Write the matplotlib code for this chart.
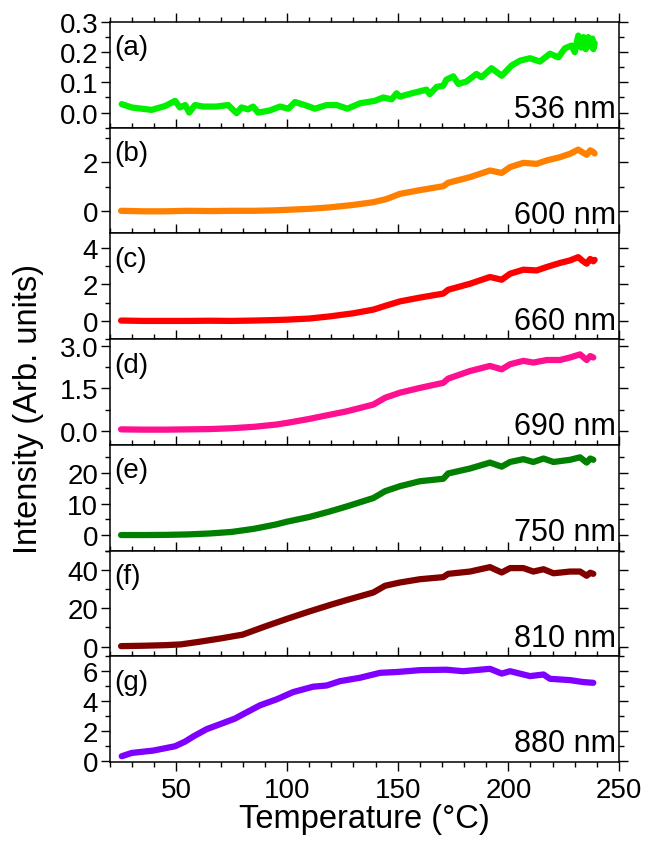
import matplotlib
matplotlib.use("Agg")
import matplotlib.pyplot as plt
from matplotlib.ticker import MultipleLocator, FormatStrFormatter

plt.rcParams['font.family'] = ['Liberation Sans', 'DejaVu Sans']

# ---------------- data ----------------
temp_a = [25.3, 29.8, 38.8, 45, 49.4, 51.6, 54, 55.8, 58.4, 62.2, 68, 73.4, 77.2, 79.4,
          82.4, 84.7, 86.9, 92.2, 96.8, 100.6, 103.6, 108, 112.6, 117.9, 122.4, 127.3,
          133, 139.7, 143.5, 147.3, 149.5, 151, 157, 163, 164.5, 167.6, 170.6, 172,
          175.1, 177.4, 181.1, 185.6, 187.9, 192.4, 197, 201.5, 205.3, 209.8, 214.3,
          218.8, 222.6, 225.6, 228.6, 230, 231.6, 233, 233.9, 235, 236.1, 237, 238,
          238.4, 239]
int_a = [0.028, 0.017, 0.009, 0.022, 0.039, 0.017, 0.025, 0.0, 0.025, 0.02, 0.02, 0.025,
         -0.002, 0.017, 0.011, 0.02, 0.0, 0.007, 0.02, 0.013, 0.035, 0.025, 0.013, 0.025,
         0.025, 0.013, 0.031, 0.039, 0.05, 0.044, 0.064, 0.053, 0.065, 0.076, 0.061,
         0.085, 0.089, 0.109, 0.12, 0.095, 0.103, 0.128, 0.117, 0.147, 0.122, 0.156,
         0.172, 0.18, 0.169, 0.195, 0.183, 0.213, 0.222, 0.20, 0.255, 0.215, 0.25,
         0.21, 0.25, 0.22, 0.245, 0.21, 0.23]

temp_b = [25, 35, 45, 55, 65, 75, 85, 95, 100, 110, 119.4, 130, 139, 145, 151, 160,
          170.6, 172.8, 182.7, 191.7, 197, 200.8, 206.8, 212.8, 217.4, 223.3, 227.9,
          231.6, 233.5, 235.4, 237, 238.4, 239]
int_b = [0.02, 0.0, 0.0, 0.02, 0.01, 0.02, 0.02, 0.04, 0.06, 0.1, 0.16, 0.26, 0.37,
         0.5, 0.71, 0.86, 1.02, 1.16, 1.39, 1.66, 1.56, 1.8, 1.97, 1.93, 2.07, 2.2,
         2.34, 2.51, 2.4, 2.3, 2.48, 2.41, 2.35]

temp_c = [25, 35, 45, 55, 65, 75, 85, 95, 100, 110, 119.4, 130, 139, 145, 151, 160,
          170.6, 172.8, 182.7, 191.7, 197, 200.8, 206.8, 212.8, 217.4, 223.3, 227.9,
          231.6, 233.5, 235.4, 237, 238.4, 239]
int_c = [0.02, 0.0, 0.0, 0.0, 0.01, 0.0, 0.02, 0.05, 0.07, 0.13, 0.25, 0.42, 0.62,
         0.85, 1.07, 1.28, 1.5, 1.71, 2.04, 2.41, 2.26, 2.59, 2.81, 2.77, 2.96, 3.18,
         3.32, 3.5, 3.3, 3.14, 3.4, 3.27, 3.35]

temp_d = [25, 35, 45, 55, 65, 75, 85, 95, 100, 110, 119.4, 127, 139, 144.3, 151, 160,
          170.6, 172.8, 182.7, 191.7, 197, 200.8, 206.8, 211.3, 217.4, 223.3, 227.9,
          232.4, 235.4, 237, 238.4]
int_d = [0.05, 0.04, 0.04, 0.05, 0.06, 0.09, 0.14, 0.22, 0.28, 0.42, 0.57, 0.69, 0.93,
         1.17, 1.35, 1.52, 1.7, 1.85, 2.12, 2.3, 2.18, 2.36, 2.48, 2.42, 2.51, 2.51,
         2.6, 2.71, 2.51, 2.65, 2.6]

temp_e = [25, 35, 45, 55, 65, 75, 85, 95, 100, 110, 119.4, 127, 139, 144.3, 151, 160,
          170.6, 172.8, 182.7, 191.7, 197, 200.8, 206.8, 211.3, 215.9, 220.4, 227.9,
          232.4, 235.4, 237, 238.4]
int_e = [0.0, 0.0, 0.05, 0.2, 0.5, 1.0, 2.0, 3.4, 4.3, 5.8, 7.6, 9.2, 11.9, 14.1, 15.7,
         17.3, 18.1, 19.8, 21.4, 23.3, 22.0, 23.5, 24.4, 23.5, 24.6, 23.5, 24.2, 25.0,
         23.3, 24.6, 24.2]

temp_f = [25, 35, 45, 52, 60, 70, 80, 90, 100, 110, 119.4, 127, 139, 144.3, 151, 160,
          170.6, 172.8, 182.7, 191.7, 197, 200.8, 206.8, 211.3, 215.9, 220.4, 227.9,
          232.4, 235.4, 237, 238.4]
int_f = [0.3, 0.5, 0.8, 1.2, 2.5, 4.3, 6.3, 10.5, 14.5, 18.3, 21.7, 24.3, 28.2, 31.7,
         33.4, 35.1, 36.2, 37.9, 39.1, 41.4, 38.6, 40.9, 40.9, 39.1, 40.3, 38.2, 39.1,
         39.1, 36.9, 38.5, 37.9]

temp_g = [25.3, 29.8, 39.6, 49.4, 53.9, 57.7, 63.7, 69.7, 76.5, 81, 87.8, 95.3, 102.8,
          111.8, 117.9, 123.9, 133, 142, 150, 160, 172, 179.6, 191.7, 197, 200.8,
          209.8, 215.9, 218.8, 227.9, 233.9, 238.4]
int_g = [0.29, 0.51, 0.67, 0.96, 1.27, 1.62, 2.11, 2.44, 2.82, 3.18, 3.71, 4.11, 4.6,
         4.96, 5.04, 5.33, 5.56, 5.89, 5.95, 6.07, 6.1, 6.0, 6.16, 5.84, 6.0, 5.67,
         5.78, 5.49, 5.4, 5.27, 5.22]

labels = ['(a)', '(b)', '(c)', '(d)', '(e)', '(f)', '(g)']
wavelengths = ['536 nm', '600 nm', '660 nm', '690 nm', '750 nm', '810 nm', '880 nm']
colors = ['#00f000', '#ff8000', '#ff0000', '#ff1090', '#007f00', '#800000', '#8000ff']
ylims = [(-0.05, 0.3), (-0.9, 3.4), (-1.0, 4.8), (-0.5, 3.25), (-5, 29), (-5, 50), (-0.1, 7)]
ymajor = [0.1, 2, 2, 1.5, 10, 20, 2]
yminor = [0.05, 1, 1, 0.75, 5, 10, 1]
yfmt = ['%.1f', '%d', '%d', '%.1f', '%d', '%d', '%d']
xticks = [50, 100, 150, 200, 250]

temps = [temp_a, temp_b, temp_c, temp_d, temp_e, temp_f, temp_g]
ints = [int_a, int_b, int_c, int_d, int_e, int_f, int_g]

# ---------------- figure ----------------
fig = plt.figure(figsize=(6.47, 8.45), dpi=100)
gs = fig.add_gridspec(7, 1, left=0.170, right=0.9567, top=0.9728, bottom=0.097, hspace=0)
axes = [fig.add_subplot(gs[i, 0]) for i in range(7)]

for i, ax in enumerate(axes):
    ax.plot(temps[i], ints[i], color=colors[i], lw=4.5, solid_joinstyle='round',
            solid_capstyle='round')
    ax.set_xlim(20, 250)
    ax.set_ylim(*ylims[i])
    ax.xaxis.set_major_locator(MultipleLocator(50))
    ax.xaxis.set_minor_locator(MultipleLocator(10))
    ax.yaxis.set_major_locator(MultipleLocator(ymajor[i]))
    ax.yaxis.set_minor_locator(MultipleLocator(yminor[i]))
    ax.yaxis.set_major_formatter(FormatStrFormatter(yfmt[i]))
    last = (i == 6)
    ax.tick_params(axis='x', which='both', direction='out', top=True, bottom=last,
                   labelbottom=last, labeltop=False)
    ax.tick_params(axis='y', which='both', direction='out', left=True, right=True,
                   labelright=False)
    ax.tick_params(which='major', length=6.5, width=1.0, labelsize=20)
    ax.tick_params(which='minor', length=3.3, width=1.0)
    ax.tick_params(axis='y', which='major', pad=2)
    ax.tick_params(axis='x', which='major', pad=4)
    for s in ax.spines.values():
        s.set_linewidth(1.1)
    ax.text(0.008, 0.76, labels[i], transform=ax.transAxes, ha='left', va='center',
            fontsize=20)
    ax.text(0.994, 0.1, wavelengths[i], transform=ax.transAxes, ha='right',
            va='baseline', fontsize=22)

axes[-1].set_xticks(xticks)
axes[-1].set_xlabel('Temperature (°C)', fontsize=23.5, labelpad=0)
fig.text(29 / 647, 1 - 409 / 845, 'Intensity (Arb. units)', rotation=90,
         ha='center', va='center', fontsize=23.5)

fig.savefig('out.png', dpi=100)
